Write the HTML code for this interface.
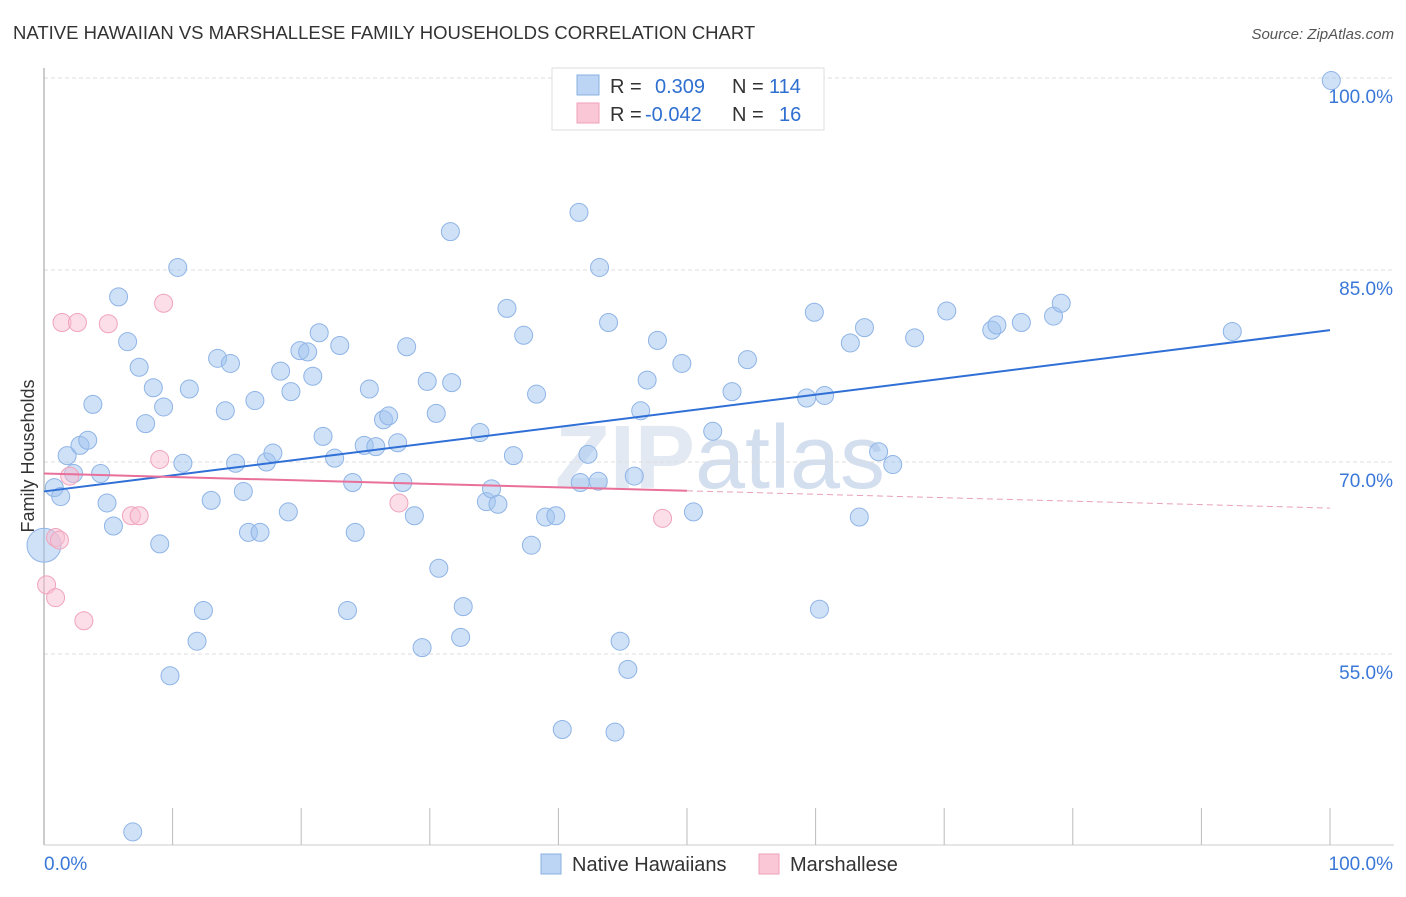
<!DOCTYPE html><html><head><meta charset="utf-8"><style>
body{margin:0;background:#fff;font-family:"Liberation Sans",sans-serif}
svg text{font-family:"Liberation Sans",sans-serif}
</style></head><body>
<svg id="c" width="1406" height="892">
<text x="13" y="39" font-size="18.5" fill="#333">NATIVE HAWAIIAN VS MARSHALLESE FAMILY HOUSEHOLDS CORRELATION CHART</text>
<text x="1394" y="39" font-size="15" fill="#555" text-anchor="end" font-style="italic">Source: ZipAtlas.com</text>
<text x="34" y="456" font-size="18" fill="#333" text-anchor="middle" transform="rotate(-90 34 456)">Family Households</text>
<text x="720" y="488" font-size="90" fill="#e2e9f2" text-anchor="middle" font-weight="bold">ZIP<tspan font-weight="normal" fill="#d3dfee">atlas</tspan></text>
<g id="grid"></g><g id="pts"></g><g id="lines"></g>
<g>
<rect x="552" y="68" width="272" height="62" fill="#fff" stroke="#ddd"/>
<rect x="577" y="75" width="22" height="20" fill="#bcd5f5" stroke="#8ab0e0"/>
<rect x="577" y="103" width="22" height="20" fill="#fac7d6" stroke="#f0a0b8"/>
<text x="610" y="93" font-size="20" fill="#333">R = <tspan x="655" fill="#2f6fd0">0.309</tspan><tspan x="732" fill="#333">N = </tspan><tspan x="769" fill="#2f6fd0">114</tspan></text>
<text x="610" y="121" font-size="20" fill="#333">R = <tspan x="645" fill="#2f6fd0">-0.042</tspan><tspan x="732" fill="#333">N = </tspan><tspan x="779" fill="#2f6fd0">16</tspan></text>
</g>
<g>
<rect x="541" y="854" width="20" height="20" fill="#bcd5f5" stroke="#8ab0e0"/>
<text x="572" y="871" font-size="20" fill="#333">Native Hawaiians</text>
<rect x="759" y="854" width="20" height="20" fill="#fac7d6" stroke="#f0a0b8"/>
<text x="790" y="871" font-size="20" fill="#333">Marshallese</text>
</g>
<text x="44" y="870" font-size="19" fill="#3a78d8">0.0%</text>
<text x="1393" y="870" font-size="19" fill="#3a78d8" text-anchor="end">100.0%</text>
</svg>
<script>
const yTicks=[100,85,70,55];
const blueX=[0.8,1.3,1.8,2.3,2.8,3.4,3.8,4.4,4.9,5.4,5.8,6.5,6.9,7.4,7.9,8.5,9.0,9.3,9.8,10.4,10.8,11.3,11.9,12.4,13.0,13.5,14.1,14.5,14.9,15.5,15.9,16.4,16.8,17.3,17.8,18.4,19.0,19.2,19.9,20.5,20.9,21.4,21.7,22.6,23.0,24.0,24.2,23.6,24.9,25.3,25.8,26.4,26.8,27.5,27.9,28.2,28.8,29.4,29.8,30.5,30.7,31.6,31.7,32.4,32.6,33.9,34.4,34.8,35.3,36.0,36.5,37.3,37.9,38.3,39.0,39.8,40.3,41.6,41.7,42.3,43.1,43.2,43.9,44.4,44.8,45.4,45.9,46.4,46.9,47.7,49.6,50.5,52.0,53.5,54.7,59.3,59.9,60.3,60.7,62.7,63.4,63.8,64.9,66.0,67.7,70.2,73.7,74.1,76.0,78.5,79.1,92.4,100.1];
const blueY=[68.0,67.3,70.5,69.1,71.3,71.7,74.5,69.1,66.8,65.0,82.9,79.4,41.1,77.4,73.0,75.8,63.6,74.3,53.3,85.2,69.9,75.7,56.0,58.4,67.0,78.1,74.0,77.7,69.9,67.7,64.5,74.8,64.5,70.0,70.7,77.1,66.1,75.5,78.7,78.6,76.7,80.1,72.0,70.3,79.1,68.4,64.5,58.4,71.3,75.7,71.2,73.3,73.6,71.5,68.4,79.0,65.8,55.5,76.3,73.8,61.7,88.0,76.2,56.3,58.7,72.3,66.9,67.9,66.7,82.0,70.5,79.9,63.5,75.3,65.7,65.8,49.1,89.5,68.4,70.6,68.5,85.2,80.9,48.9,56.0,53.8,68.9,74.0,76.4,79.5,77.7,66.1,72.4,75.5,78.0,75.0,81.7,58.5,75.2,79.3,65.7,80.5,70.8,69.8,79.7,81.8,80.3,80.7,80.9,81.4,82.4,80.2,99.8];
const pinkX=[0.2,0.9,0.9,1.2,1.4,2.0,2.6,3.1,5.0,6.8,7.4,9.0,9.3,27.6,48.1];
const pinkY=[60.4,59.4,64.1,63.9,80.9,68.9,80.9,57.6,80.8,65.8,65.8,70.2,82.4,66.8,65.6];
const blueTrend=[67.7,80.3];
const pinkTrend=[69.1,66.4];
const NS='http://www.w3.org/2000/svg';
const X=v=>44+v*12.86, Y=v=>78+(100-v)*12.8;
function mk(t,a,p){const e=document.createElementNS(NS,t);for(const k in a)e.setAttribute(k,a[k]);p.appendChild(e);return e;}
const g=document.getElementById('grid');
yTicks.forEach(t=>{
 const l=mk('line',{x1:44,x2:1394,y1:Y(t),y2:Y(t),stroke:'#ddd','stroke-dasharray':'4 3'},g);
 
 
 const tx=mk('text',{x:1393,y:Y(t)+25,'font-size':19,fill:'#3a78d8','text-anchor':'end'},g);
 tx.textContent=t.toFixed(1)+'%';
 
 
});
mk('line',{x1:44,x2:44,y1:68,y2:845,stroke:'#999'},g);
mk('line',{x1:44,x2:1394,y1:845,y2:845,stroke:'#ccc'},g);
for(let i=1;i<=10;i++){const t=mk('line',{x1:X(i*10),x2:X(i*10),y1:808,y2:845,stroke:'#bbb'},g);
 
 }
const p=document.getElementById('pts');
blueX.forEach((x,i)=>{const c=mk('circle',{cx:X(x),cy:Y(blueY[i]),r:9,fill:'rgba(160,195,240,0.5)',stroke:'#8fb4e6','stroke-width':1},p);
 
 });
const big=mk('circle',{cx:X(0),cy:Y(63.5),r:17,fill:'rgba(160,195,240,0.5)',stroke:'#8fb4e6'},p);


pinkX.forEach((x,i)=>{const c=mk('circle',{cx:X(x),cy:Y(pinkY[i]),r:9,fill:'rgba(248,190,210,0.5)',stroke:'#f0a3bc','stroke-width':1},p);
 
 });
const L=document.getElementById('lines');
const b=mk('line',{x1:X(0),y1:Y(blueTrend[0]),x2:X(100),y2:Y(blueTrend[1]),stroke:'#2f6fd6','stroke-width':2},L);


const pm=pinkTrend[0]+(pinkTrend[1]-pinkTrend[0])*0.5;
const s=mk('line',{x1:X(0),y1:Y(pinkTrend[0]),x2:X(50),y2:Y(pm),stroke:'#e8709a','stroke-width':2},L);


const d=mk('line',{x1:X(50),y1:Y(pm),x2:X(100),y2:Y(pinkTrend[1]),stroke:'#e8a0b8','stroke-width':1,'stroke-dasharray':'6 4'},L);


</script></body></html>
